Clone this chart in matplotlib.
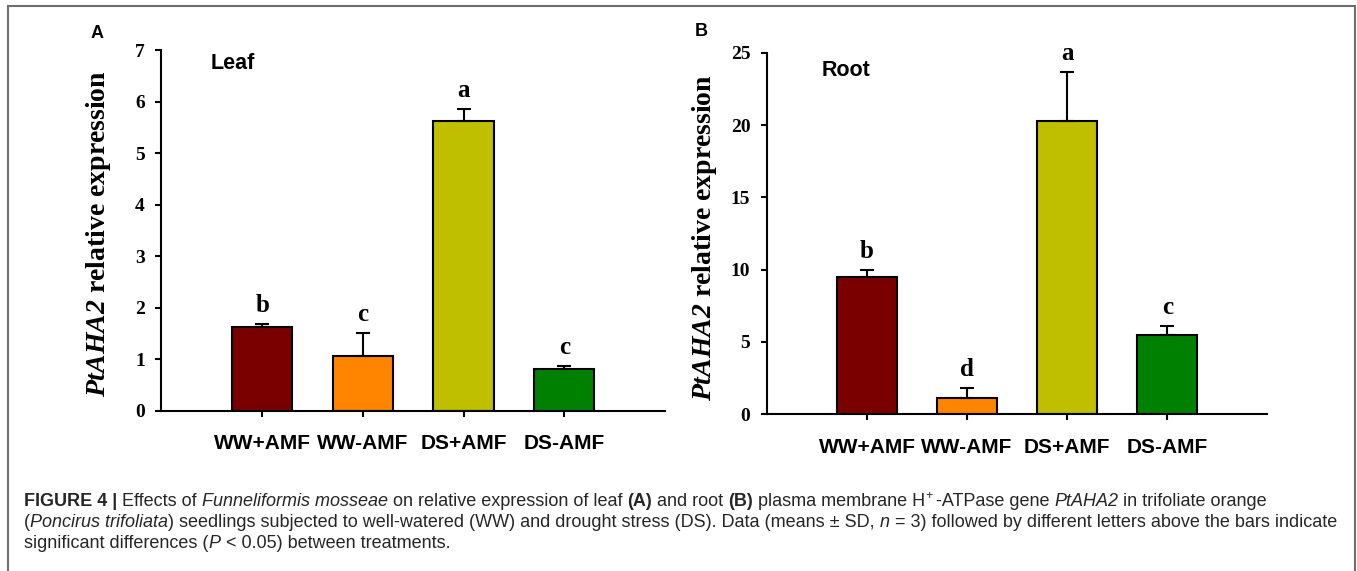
import matplotlib
matplotlib.use("Agg")
import matplotlib.pyplot as plt
from matplotlib.patches import Rectangle

# the only math string is the gene name, set wholly in bold italic serif
plt.rcParams["mathtext.fontset"] = "custom"
plt.rcParams["mathtext.rm"] = "Liberation Serif:italic:bold"
plt.rcParams["mathtext.it"] = "Liberation Serif:italic:bold"

# qRT-PCR results, means and SD (n = 3)
treatments = ["WW+AMF", "WW-AMF", "DS+AMF", "DS-AMF"]
bar_colors = ["#7a0000", "#ff8400", "#bfbf00", "#008000"]

leaf_mean = [1.62, 1.06, 5.63, 0.80]
leaf_sd = [0.06, 0.44, 0.23, 0.07]
leaf_letters = ["b", "c", "a", "c"]

root_mean = [9.52, 1.15, 20.30, 5.46]
root_sd = [0.46, 0.69, 3.37, 0.65]
root_letters = ["b", "d", "a", "c"]

SERIF = "Liberation Serif"
SANS = "Liberation Sans"
CAPTION_COLOR = "#262626"


def draw_panel(ax, means, sds, letters, ymax, yticks, tissue, tissue_xy):
    x = list(range(len(treatments)))
    ax.bar(x, means, width=0.6, color=bar_colors, edgecolor="black",
           linewidth=1.5, zorder=2)
    ax.errorbar(x, means, yerr=[[0] * len(sds), sds], fmt="none",
                ecolor="black", elinewidth=1.5, capsize=5, capthick=1.5,
                zorder=3)
    for xi, m, s, lab in zip(x, means, sds, letters):
        ax.annotate(lab, (xi, m + s), xytext=(0, 5), textcoords="offset points",
                    ha="center", va="bottom", fontsize=18,
                    family=SERIF, fontweight="bold")

    ax.set_xlim(-1, 4)
    ax.set_ylim(0, ymax)
    ax.set_xticks(x)
    ax.set_xticklabels(treatments, family=SANS, fontweight="bold", fontsize=15)
    ax.set_yticks(yticks)
    ax.set_yticklabels([str(t) for t in yticks], family=SERIF,
                       fontweight="bold", fontsize=14)
    for side in ("top", "right"):
        ax.spines[side].set_visible(False)
    for side in ("left", "bottom"):
        ax.spines[side].set_linewidth(1.5)
    ax.tick_params(axis="both", direction="out", length=4, width=1.5)
    ax.tick_params(axis="x", pad=13)
    ax.tick_params(axis="y", pad=8)

    ax.text(-0.125, 0.49, r"$PtAHA2$ relative expression",
            transform=ax.transAxes, rotation=90, ha="center", va="center",
            family=SERIF, fontweight="bold", fontsize=20)
    ax.text(tissue_xy[0], tissue_xy[1], tissue, transform=ax.transAxes,
            ha="left", va="center", family=SANS, fontweight="bold",
            fontsize=15.5)


fig = plt.figure(figsize=(13.57, 5.71), dpi=100)
ax_leaf = fig.add_axes([0.119, 0.2807, 0.371, 0.6317])
ax_root = fig.add_axes([0.5652, 0.2744, 0.3688, 0.6333])

draw_panel(ax_leaf, leaf_mean, leaf_sd, leaf_letters, 7, range(0, 8),
           "Leaf", (0.098, 0.964))
draw_panel(ax_root, root_mean, root_sd, root_letters, 25, range(0, 26, 5),
           "Root", (0.109, 0.950))

fig.text(97 / 1357, 1 - 34 / 571, "A", ha="center", va="center",
         family=SANS, fontweight="bold", fontsize=13)
fig.text(701 / 1357, 1 - 31 / 571, "B", ha="center", va="center",
         family=SANS, fontweight="bold", fontsize=13)

# frame round the whole figure
fig.add_artist(Rectangle((8 / 1357, -0.05), (1355 - 8) / 1357, 1 - 6 / 571 + 0.05,
                         transform=fig.transFigure, fill=False,
                         edgecolor="#6e6e6e", linewidth=1.5))

# caption, written piece by piece so that bold/italic runs can be mixed
REG = dict()
BOLD = dict(fontweight="bold")
ITAL = dict(style="italic")
SUP = dict(fontsize=9, dy=5)

caption_lines = [
    [("FIGURE 4 | ", BOLD), ("Effects of ", REG), ("Funneliformis mosseae", ITAL),
     (" on relative expression of leaf ", REG), ("(A)", BOLD), (" and root ", REG),
     ("(B)", BOLD), (" plasma membrane H", REG), ("+", SUP), ("-ATPase gene ", REG),
     ("PtAHA2", ITAL), (" in trifoliate orange", REG)],
    [("(", REG), ("Poncirus trifoliata", ITAL),
     (") seedlings subjected to well-watered (WW) and drought stress (DS). "
      "Data (means \u00b1 SD, ", REG), ("n", ITAL),
     (" = 3) followed by different letters above the bars indicate", REG)],
    [("significant differences (", REG), ("P", ITAL), (" < 0.05) between treatments.", REG)],
]
caption_baselines = [506, 527, 548]

renderer = fig.canvas.get_renderer()
fig_w = fig.get_figwidth() * fig.dpi
fig_h = fig.get_figheight() * fig.dpi


def text_props(style):
    props = dict(family=SANS, fontsize=13, color=CAPTION_COLOR)
    props.update({k: v for k, v in style.items() if k != "dy"})
    return props


def advance(s, props):
    probe = fig.text(0, 0, "|" + s + "|", **props)
    bare = fig.text(0, 0, "||", **props)
    w = probe.get_window_extent(renderer).width - bare.get_window_extent(renderer).width
    probe.remove()
    bare.remove()
    return w


for pieces, base in zip(caption_lines, caption_baselines):
    x = 24 / fig_w
    y = 1 - base / fig_h
    for s, style in pieces:
        props = text_props(style)
        dy = style.get("dy", 0) * fig.dpi / 72 / fig_h
        fig.text(x, y + dy, s, ha="left", va="baseline", **props)
        x += advance(s, props) / fig_w
        if style is SUP:
            x += 3 / fig_w

fig.savefig("out.png", dpi=100)
